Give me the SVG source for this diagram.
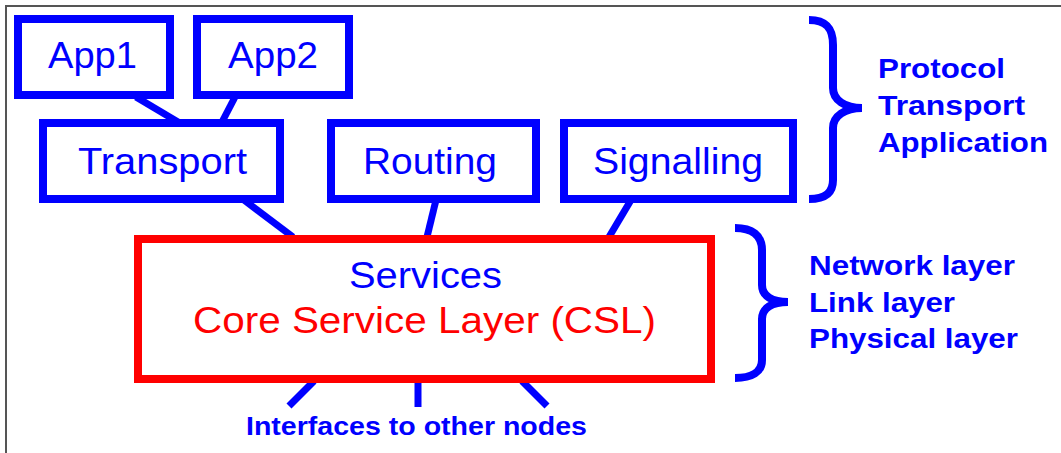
<svg xmlns="http://www.w3.org/2000/svg" width="1061" height="453" viewBox="0 0 1061 453">
  <style>
    .box { fill: #ffffff; stroke: #0000ff; stroke-width: 8; }
    .core { fill: #ffffff; stroke: #ff0000; stroke-width: 8; }
    .link { stroke: #0000ff; stroke-width: 7; fill: none; }
    .brace { stroke: #0000ff; stroke-width: 8; fill: none; }
    .lbl { font-family: "Liberation Sans", Arial, sans-serif; font-size: 36px; fill: #0000ff; }
    .red { fill: #ff0000; }
    .side { font-family: "Liberation Sans", Arial, sans-serif; font-size: 28px; font-weight: bold; fill: #0000ff; }
    .note { font-family: "Liberation Sans", Arial, sans-serif; font-size: 26px; font-weight: bold; fill: #0000ff; }
  </style>
  <rect x="0" y="0" width="1061" height="453" fill="#ffffff"/>
  <!-- frame: only the top and left edges fall inside the canvas -->
  <rect x="6" y="6" width="1100" height="500" fill="none" stroke="#555555" stroke-width="2"/>

  <g id="connectors">
    <line class="link" x1="136" y1="97" x2="178" y2="122"/>
    <line class="link" x1="235" y1="97" x2="222" y2="122"/>
    <line class="link" x1="244" y1="200" x2="293" y2="237"/>
    <line class="link" x1="436" y1="200" x2="427" y2="237"/>
    <line class="link" x1="631" y1="200" x2="609" y2="237"/>
    <line class="link" x1="314" y1="381" x2="289" y2="406"/>
    <line class="link" x1="418" y1="381" x2="418" y2="407" stroke-width="9"/>
    <line class="link" x1="522" y1="381" x2="547" y2="406"/>
  </g>

  <g id="app1">
    <rect class="box" x="18" y="19" width="152" height="76"/>
    <text class="lbl" x="48" y="68" textLength="89" lengthAdjust="spacingAndGlyphs">App1</text>
  </g>
  <g id="app2">
    <rect class="box" x="197" y="19" width="152" height="76"/>
    <text class="lbl" x="228" y="68" textLength="90" lengthAdjust="spacingAndGlyphs">App2</text>
  </g>
  <g id="transport">
    <rect class="box" x="43" y="123" width="237" height="76"/>
    <text class="lbl" x="78" y="174" textLength="169" lengthAdjust="spacingAndGlyphs">Transport</text>
  </g>
  <g id="routing">
    <rect class="box" x="331" y="123" width="205" height="76"/>
    <text class="lbl" x="363" y="174" textLength="134" lengthAdjust="spacingAndGlyphs">Routing</text>
  </g>
  <g id="signalling">
    <rect class="box" x="564" y="123" width="229" height="76"/>
    <text class="lbl" x="593" y="174" textLength="170" lengthAdjust="spacingAndGlyphs">Signalling</text>
  </g>
  <g id="csl">
    <rect class="core" x="138" y="239" width="573" height="140"/>
    <text class="lbl" x="349" y="288" textLength="153" lengthAdjust="spacingAndGlyphs">Services</text>
    <text class="lbl red" x="193" y="333" textLength="463" lengthAdjust="spacingAndGlyphs">Core Service Layer (CSL)</text>
  </g>

  <g id="upper-brace">
    <path class="brace" d="M809,20 C826,20 833,28 833,45 L833,88 C833,100 845,108 862,108 C845,108 833,116 833,128 L833,180 C833,192 826,199 809,199"/>
    <text class="side" x="878" y="78" textLength="127" lengthAdjust="spacingAndGlyphs">Protocol</text>
    <text class="side" x="878" y="115" textLength="147" lengthAdjust="spacingAndGlyphs">Transport</text>
    <text class="side" x="878" y="152" textLength="170" lengthAdjust="spacingAndGlyphs">Application</text>
  </g>
  <g id="lower-brace">
    <path class="brace" d="M735,228 C752,228 762,235 762,250 L762,285 C762,296 772,302 788,302 C772,302 762,308 762,319 L762,360 C762,372 752,378 735,378"/>
    <text class="side" x="809" y="275" textLength="206" lengthAdjust="spacingAndGlyphs">Network layer</text>
    <text class="side" x="809" y="312" textLength="146" lengthAdjust="spacingAndGlyphs">Link layer</text>
    <text class="side" x="809" y="348" textLength="209" lengthAdjust="spacingAndGlyphs">Physical layer</text>
  </g>

  <g id="interfaces">
    <text class="note" x="246" y="435" textLength="341" lengthAdjust="spacingAndGlyphs">Interfaces to other nodes</text>
  </g>
</svg>
